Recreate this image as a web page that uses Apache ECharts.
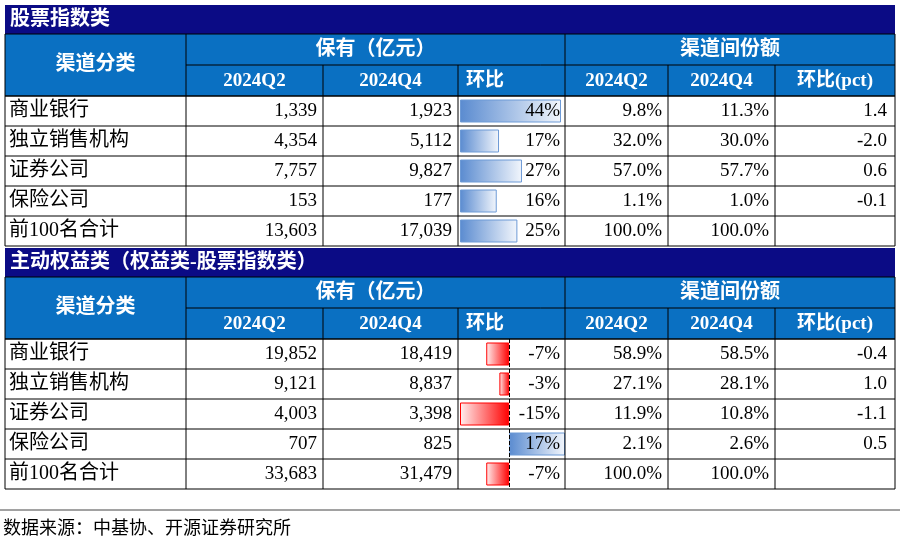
<!DOCTYPE html>
<html><head><meta charset="utf-8">
<script src="https://cdn.jsdelivr.net/npm/echarts@6/dist/echarts.min.js"></script>
<style>html,body{margin:0;padding:0;background:#fff}#c{width:900px;height:558px}</style>
</head><body><div id="c"></div>
<script>
const channels = ['商业银行','独立销售机构','证券公司','保险公司','前100名合计'];
const t1Q2 = ['1,339','4,354','7,757','153','13,603'];
const t1Q4 = ['1,923','5,112','9,827','177','17,039'];
const t1Chg = [44,17,27,16,25];
const t1ShQ2 = ['9.8%','32.0%','57.0%','1.1%','100.0%'];
const t1ShQ4 = ['11.3%','30.0%','57.7%','1.0%','100.0%'];
const t1Pct = ['1.4','-2.0','0.6','-0.1',''];
const t2Q2 = ['19,852','9,121','4,003','707','33,683'];
const t2Q4 = ['18,419','8,837','3,398','825','31,479'];
const t2Chg = [-7,-3,-15,17,-7];
const t2ShQ2 = ['58.9%','27.1%','11.9%','2.1%','100.0%'];
const t2ShQ4 = ['58.5%','28.1%','10.8%','2.6%','100.0%'];
const t2Pct = ['-0.4','1.0','-1.1','0.5',''];
const titles = ['股票指数类','主动权益类（权益类-股票指数类）'];
const hdr = ['渠道分类','保有（亿元）','渠道间份额','2024Q2','2024Q4','环比','2024Q2','2024Q4','环比(pct)'];
const source = '数据来源：中基协、开源证券研究所';

const X = [5,186,323,458,565,668,775,895];
const FONT = '"Liberation Serif","Noto Sans CJK SC",serif';
const RH = 30;
const g = [];
function rect(x,y,w,h,fill,stroke){g.push({type:'rect',shape:{x,y,width:w,height:h},style:{fill:fill,stroke:stroke||null,lineWidth:1},z:1});}
function line(x1,y1,x2,y2,c,dash){g.push({type:'line',shape:{x1,y1,x2,y2},style:{stroke:c||'#000',lineWidth:1,lineDash:dash||null},z:5});}
function txt(s,x,y,align,color,size,bold){g.push({type:'text',x,y,style:{text:s,fill:color||'#000',font:(bold?'bold ':'')+(size||18)+'px '+FONT,align:align||'left',verticalAlign:'middle'},z:10});}

function table(top,title,q2,q4,chg,s2,s4,p){
  rect(5,top,890,29,'#0B0B85');
  txt(title,10,top+15,'left','#fff',20,true);
  const h0=top+29, h1=h0+31, h2=h0+62;
  rect(5,h0,890,62,'#0A70C2','#000');
  line(X[1],h0,X[1],h2); line(X[4],h0,X[4],h2);
  line(X[1],h1,X[7],h1);
  [2,3,5,6].forEach(i=>line(X[i],h1,X[i],h2));
  txt(hdr[0],(X[0]+X[1])/2,h0+31,'center','#fff',20,true);
  txt(hdr[1],(X[1]+X[4])/2,h0+16,'center','#fff',20,true);
  txt(hdr[2],(X[4]+X[7])/2,h0+16,'center','#fff',20,true);
  for(let i=0;i<6;i++){
    const cx = i===2 ? X[3]+8 : (X[i+1]+X[i+2])/2;
    txt(hdr[3+i],cx,h1+16,i===2?'left':'center','#fff',19,true);
  }
  const bottom=h2+RH*5;
  for(let r=0;r<=5;r++) line(5,h2+RH*r,895,h2+RH*r);
  X.forEach(x=>line(x,h2,x,bottom));
  for(let r=0;r<5;r++){
    const cy=h2+RH*r+15;
    txt(channels[r],9,cy,'left','#000',20);
    txt(q2[r],X[2]-6,cy,'right','#000',19);
    txt(q4[r],X[3]-6,cy,'right','#000',19);
    txt(chg[r]+'%',X[4]-5,cy,'right','#000',19);
    txt(s2[r],X[5]-6,cy,'right','#000',19);
    txt(s4[r],X[6]-6,cy,'right','#000',19);
    txt(p[r],X[7]-8,cy,'right','#000',19);
  }
  return h2;
}
const A = table(5,titles[0],t1Q2,t1Q4,t1Chg,t1ShQ2,t1ShQ4,t1Pct);
const B = table(248,titles[1],t2Q2,t2Q4,t2Chg,t2ShQ2,t2ShQ4,t2Pct);
line(0,510,900,510,'#444');
txt(source,3,529,'left','#000',18);

const blue = {type:'linear',x:0,y:0,x2:1,y2:0,colorStops:[{offset:0,color:'#5A8BD0'},{offset:1,color:'#F2F6FC'}]};
const red = {type:'linear',x:0,y:0,x2:1,y2:0,colorStops:[{offset:0,color:'#FFF0F0'},{offset:1,color:'#FF0000'}]};
const chart = echarts.init(document.getElementById('c'));
const cats=[0,1,2,3,4];
chart.setOption({
  animation:false,
  grid:[{left:460,width:101,top:A,height:150},{left:460,width:105,top:B,height:150}],
  xAxis:[{gridIndex:0,type:'value',min:0,max:44,show:false},
         {gridIndex:1,type:'value',min:-15,max:17,show:false}],
  yAxis:[{gridIndex:0,type:'category',data:cats,inverse:true,show:false},
         {gridIndex:1,type:'category',data:cats,inverse:true,show:false}],
  series:[
    {type:'bar',xAxisIndex:0,yAxisIndex:0,barWidth:23,data:t1Chg,itemStyle:{color:blue,borderColor:'#6D9AD6',borderWidth:1},z:2},
    {type:'bar',xAxisIndex:1,yAxisIndex:1,barWidth:23,data:t2Chg.map(v=>({value:v,itemStyle:v<0?{color:red,borderColor:'#FF0000',borderWidth:1}:{color:blue,borderColor:'#6D9AD6',borderWidth:1}})),z:2,
     markLine:{symbol:'none',silent:true,label:{show:false},lineStyle:{color:'#000',type:'dashed',width:1},data:[{xAxis:0}]}}
  ],
  graphic:g
});
</script>
</body></html>
